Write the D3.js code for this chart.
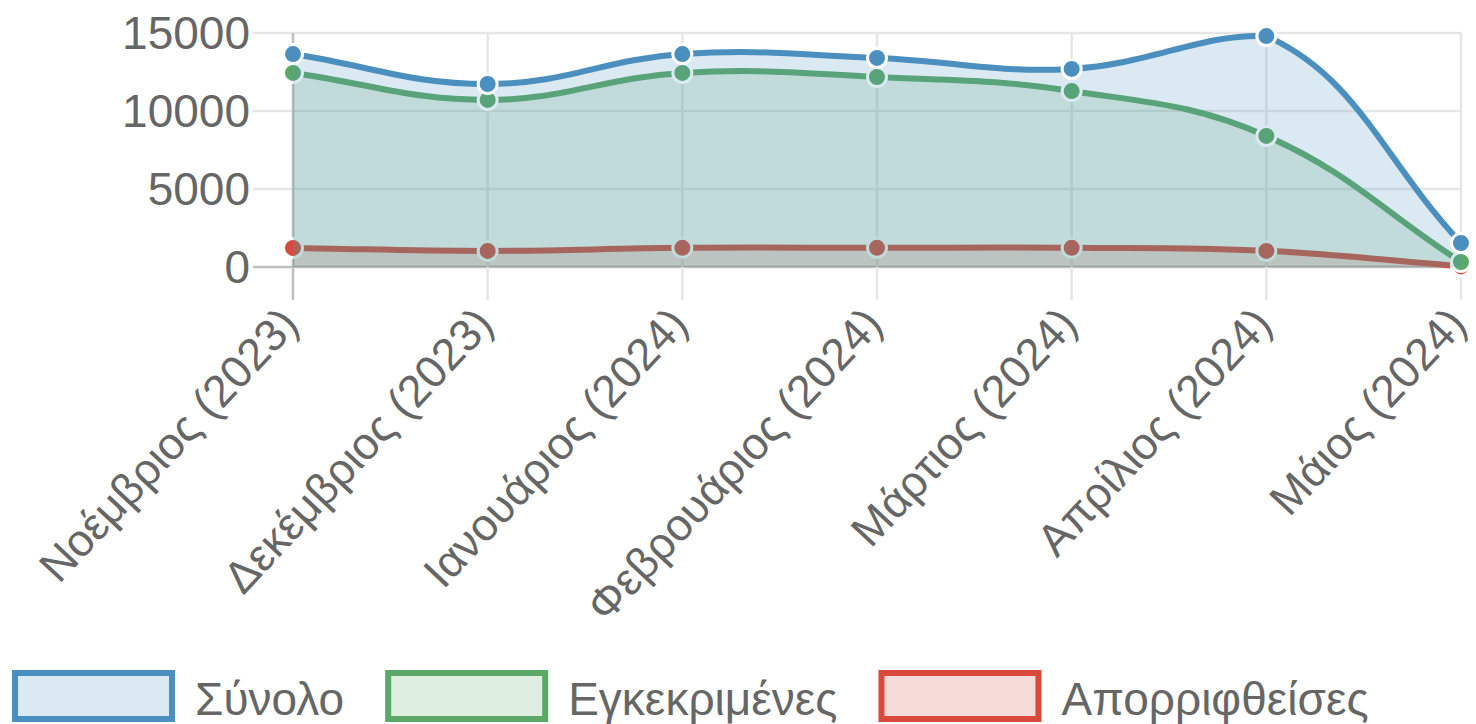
<!DOCTYPE html>
<html>
<head>
<meta charset="utf-8">
<script src="https://cdn.jsdelivr.net/npm/d3@7"></script>
<style>
  body { margin: 0; background: #fff; }
  text { font-family: "Liberation Sans", Arial, sans-serif; fill: #666; }
</style>
</head>
<body>
<svg id="chart"></svg>
<script>
const months = ["Νοέμβριος (2023)", "Δεκέμβριος (2023)", "Ιανουάριος (2024)", "Φεβρουάριος (2024)",
    "Μάρτιος (2024)", "Απρίλιος (2024)", "Μάιος (2024)"];
const total = [13650, 11730, 13650, 13400, 12700, 14800, 1540];
const approved = [12440, 10710, 12440, 12180, 11280, 8400, 320];
const rejected = [1220, 1030, 1230, 1230, 1230, 1030, 40];
const yTicks = [0, 5000, 10000, 15000];
const seriesNames = ["Σύνολο", "Εγκεκριμένες", "Απορριφθείσες"];

const W = 1476, H = 724;
const margin = { top: 33, right: 15, bottom: 457, left: 293 };
const fontSize = 46;

const series = [
    { name: seriesNames[0], values: total, color: "rgb(75,143,191)" },
    { name: seriesNames[1], values: approved, color: "rgb(92,168,104)" },
    { name: seriesNames[2], values: rejected, color: "rgb(217,73,60)" }
];

const svg = d3.select("#chart").attr("width", W).attr("height", H);

const x = d3.scalePoint().domain(months).range([margin.left, W - margin.right]);
const y = d3.scaleLinear().domain([0, 15000]).range([H - margin.bottom, margin.top]);
const area = { left: x.range()[0], right: x.range()[1], top: y(15000), bottom: y(0) };

// grid
const grid = svg.append("g");
grid.selectAll("line.h")
    .data(yTicks)
    .join("line")
    .attr("x1", area.left - 40).attr("x2", area.right)
    .attr("y1", d => y(d)).attr("y2", d => y(d))
    .attr("stroke", d => d === 0 ? "#bfbfbf" : "#e6e6e6")
    .attr("stroke-width", 2.5);
grid.selectAll("line.v")
    .data(months)
    .join("line")
    .attr("x1", d => x(d)).attr("x2", d => x(d))
    .attr("y1", area.top).attr("y2", area.bottom + 33)
    .attr("stroke", (d, i) => i === 0 ? "#bfbfbf" : "#e6e6e6")
    .attr("stroke-width", 2.5);

// y labels
svg.append("g").selectAll("text")
    .data(yTicks)
    .join("text")
    .attr("x", area.left - 43)
    .attr("y", d => y(d))
    .attr("dy", "0.35em")
    .attr("text-anchor", "end")
    .style("font-size", fontSize + "px")
    .text(d => d);

// x labels
svg.append("g").selectAll("text")
    .data(months)
    .join("text")
    .attr("transform", d => `translate(${x(d) - 4}, ${area.bottom + 48}) rotate(-47)`)
    .attr("dy", "0.35em")
    .attr("text-anchor", "end")
    .style("font-size", "45px")
    .text(d => d);

// Chart.js-style spline (tension 0.4, control points capped to the chart area)
function splinePath(pts, closeToBase) {
    const t = 0.4;
    const cps = pts.map((p, i) => {
        const prev = pts[Math.max(i - 1, 0)], next = pts[Math.min(i + 1, pts.length - 1)];
        const d01 = Math.hypot(p[0] - prev[0], p[1] - prev[1]);
        const d12 = Math.hypot(next[0] - p[0], next[1] - p[1]);
        let s01 = d01 / (d01 + d12), s12 = d12 / (d01 + d12);
        if (isNaN(s01)) s01 = 0;
        if (isNaN(s12)) s12 = 0;
        const fa = t * s01, fb = t * s12;
        const cap = c => [Math.max(area.left, Math.min(area.right, c[0])), Math.max(area.top, Math.min(area.bottom, c[1]))];
        return {
            prev: cap([p[0] - fa * (next[0] - prev[0]), p[1] - fa * (next[1] - prev[1])]),
            next: cap([p[0] + fb * (next[0] - prev[0]), p[1] + fb * (next[1] - prev[1])])
        };
    });
    const path = d3.path();
    path.moveTo(pts[0][0], pts[0][1]);
    for (let i = 1; i < pts.length; i++) {
        path.bezierCurveTo(cps[i - 1].next[0], cps[i - 1].next[1], cps[i].prev[0], cps[i].prev[1], pts[i][0], pts[i][1]);
    }
    if (closeToBase) {
        path.lineTo(pts[pts.length - 1][0], y(0));
        path.lineTo(pts[0][0], y(0));
        path.closePath();
    }
    return path.toString();
}

// datasets are drawn last-to-first, like Chart.js
const plot = svg.append("g");
series.slice().reverse().forEach(s => {
    const pts = s.values.map((v, i) => [x(months[i]), y(v)]);
    const g = plot.append("g");
    g.append("path")
        .attr("d", splinePath(pts, true))
        .attr("fill", s.color)
        .attr("fill-opacity", 0.2);
    g.append("path")
        .attr("d", splinePath(pts, false))
        .attr("fill", "none")
        .attr("stroke", s.color)
        .attr("stroke-width", 6);
    g.selectAll("circle")
        .data(pts)
        .join("circle")
        .attr("cx", d => d[0])
        .attr("cy", d => d[1])
        .attr("r", 9.5)
        .attr("fill", s.color)
        .attr("stroke", "#fff")
        .attr("stroke-width", 3);
});

// legend
const legend = svg.append("g");
let lx = 15;
series.forEach(s => {
    const item = legend.append("g");
    item.append("rect")
        .attr("x", lx).attr("y", 673)
        .attr("width", 157).attr("height", 46)
        .attr("fill", s.color).attr("fill-opacity", 0.2);
    item.append("rect")
        .attr("x", lx).attr("y", 673)
        .attr("width", 157).attr("height", 46)
        .attr("fill", "none")
        .attr("stroke", s.color).attr("stroke-width", 6);
    const label = item.append("text")
        .attr("x", lx + 180)
        .attr("y", 699)
        .attr("dy", "0.35em")
        .style("font-size", fontSize + "px")
        .text(s.name);
    lx += 180 + label.node().getComputedTextLength() + 44;
});
</script>
</body>
</html>
